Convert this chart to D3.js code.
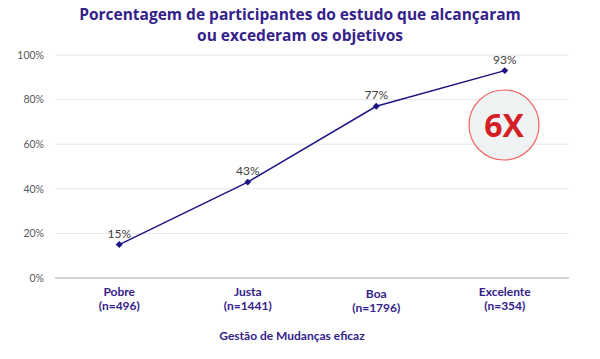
<!DOCTYPE html>
<html><head><meta charset="utf-8">
<script src="https://cdn.jsdelivr.net/npm/d3@7"></script>
<style>body{margin:0;background:#fff}</style>
</head><body>
<script>
const categories = ["Pobre", "Justa", "Boa", "Excelente"];
const sampleSizes = ["(n=496)", "(n=1441)", "(n=1796)", "(n=354)"];
const values = [15, 43, 77, 93];
const yTicks = [0, 20, 40, 60, 80, 100];
const titleLines = ["Porcentagem de participantes do estudo que alcançaram", "ou excederam os objetivos"];
const xTitle = "Gestão de Mudanças eficaz";
const badge = "6X";

const W = 600, H = 359;
const svg = d3.select("body").append("svg").attr("width", W).attr("height", H);
const x = d3.scaleBand().domain(categories).range([55, 569]);
const y = d3.scaleLinear().domain([0, 100]).range([278, 55]);

// gridlines
svg.append("g").selectAll("line").data(yTicks.filter(d => d > 0)).join("line")
  .attr("x1", 55).attr("x2", 569).attr("y1", d => y(d)).attr("y2", d => y(d))
  .attr("stroke", "#e6e6e6").attr("stroke-width", 1);
svg.append("line").attr("x1", 55).attr("x2", 569).attr("y1", y(0)).attr("y2", y(0))
  .attr("stroke", "#bfc6c9").attr("stroke-width", 1.5);

// y labels
const yAxis = d3.axisLeft(y).tickValues(yTicks).tickFormat(d => d + "%").tickSize(0).tickPadding(0);
const ya = svg.append("g").attr("transform", "translate(44,0)").call(yAxis);
ya.select(".domain").remove();
ya.selectAll("text").attr("fill", "#595959").style("font-family", "Lato, sans-serif").style("font-size", "10.5px");

// title
svg.append("g").selectAll("text").data(titleLines).join("text")
  .attr("x", 300).attr("y", (d, i) => 20 + i * 20.5).attr("text-anchor", "middle")
  .style("font-family", "'Open Sans', sans-serif").style("font-weight", "700").style("font-size", "15.5px")
  .attr("fill", "#34228a").text(d => d);

// line
const cx = d => x(d) + x.bandwidth() / 2;
svg.append("path").datum(values)
  .attr("d", d3.line().x((d, i) => cx(categories[i])).y(d => y(d)))
  .attr("fill", "none").attr("stroke", "#1c1580").attr("stroke-width", 1.5);
svg.append("g").selectAll("path").data(values).join("path")
  .attr("d", d3.symbol(d3.symbolSquare, 24)())
  .attr("transform", (d, i) => `translate(${cx(categories[i])},${y(d)}) rotate(45)`)
  .attr("fill", "#1c1580");
svg.append("g").selectAll("text").data(values).join("text")
  .attr("x", (d, i) => cx(categories[i])).attr("y", d => y(d) - 7)
  .attr("text-anchor", "middle").attr("fill", "#404040")
  .style("font-family", "Lato, sans-serif").style("font-size", "12px")
  .text(d => d + "%");

// category labels
const catG = svg.append("g").selectAll("text").data(categories).join("text")
  .attr("text-anchor", "middle").attr("fill", "#34228a")
  .style("font-family", "Lato, sans-serif").style("font-weight", "700").style("font-size", "12px");
catG.append("tspan").attr("x", d => cx(d)).attr("y", (d, i) => i === 2 ? 298 : 296).text(d => d);
catG.append("tspan").attr("x", d => cx(d)).attr("y", (d, i) => i === 2 ? 312 : 310).text((d, i) => sampleSizes[i]);

svg.append("text").attr("x", 292).attr("y", 340).attr("text-anchor", "middle")
  .attr("fill", "#34228a").style("font-family", "Lato, sans-serif").style("font-weight", "700").style("font-size", "12px")
  .text(xTitle);

// badge
svg.append("circle").attr("cx", 504).attr("cy", 125).attr("r", 35)
  .attr("fill", "#f0f3f3").attr("stroke", "#f26565").attr("stroke-width", 1.2);
svg.append("text").attr("x", 504).attr("y", 137).attr("text-anchor", "middle")
  .attr("fill", "#d41f26").style("font-family", "'Open Sans', sans-serif").style("font-weight", "700").style("font-size", "32px")
  .text(badge);
</script>
</body></html>
